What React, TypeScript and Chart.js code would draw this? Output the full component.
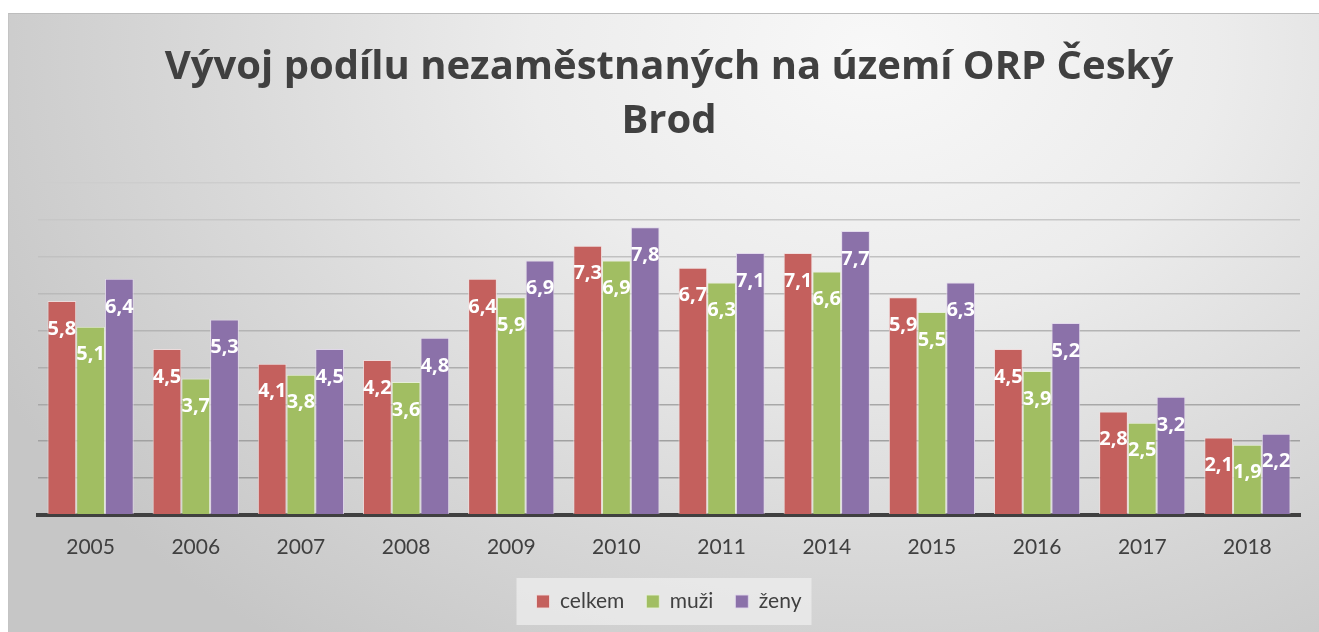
import React, { useEffect, useRef } from "react";
import { Chart, registerables } from "chart.js";

Chart.register(...registerables);

const categories = ["2005", "2006", "2007", "2008", "2009", "2010", "2011", "2014", "2015", "2016", "2017", "2018"];
const celkem = [5.8, 4.5, 4.1, 4.2, 6.4, 7.3, 6.7, 7.1, 5.9, 4.5, 2.8, 2.1];
const muzi = [5.1, 3.7, 3.8, 3.6, 5.9, 6.9, 6.3, 6.6, 5.5, 3.9, 2.5, 1.9];
const zeny = [6.4, 5.3, 4.5, 4.8, 6.9, 7.8, 7.1, 7.7, 6.3, 5.2, 3.2, 2.2];
const seriesNames = ["celkem", "muži", "ženy"];
const titleLines = ["Vývoj podílu nezaměstnaných na území ORP Český", "Brod"];
const yMin = 0;
const yMax = 9;

const FONT = "Lato, 'Open Sans', sans-serif";
const BOLDFONT = "'Open Sans', Lato, sans-serif";
const TEXT = "#404040";

const labelPlugin = {
  id: "barValueLabels",
  afterDatasetsDraw(chart: any) {
    const ctx = chart.ctx;
    ctx.save();
    ctx.font = `bold 20px ${BOLDFONT}`;
    ctx.fillStyle = "#ffffff";
    ctx.textAlign = "center";
    ctx.textBaseline = "middle";
    chart.data.datasets.forEach((ds: any, i: number) => {
      const meta = chart.getDatasetMeta(i);
      meta.data.forEach((bar: any, j: number) => {
        const v = ds.data[j] as number;
        ctx.fillText(v.toFixed(1).replace(".", ","), bar.x, bar.y + 28);
      });
    });
    ctx.restore();
  },
};

const legendBgPlugin = {
  id: "legendBg",
  beforeDraw(chart: any) {
    const lg = chart.legend;
    if (!lg || !lg.legendHitBoxes || !lg.legendHitBoxes.length) return;
    const hbs = lg.legendHitBoxes;
    let l = Infinity, r = -Infinity, t = Infinity, b = -Infinity;
    hbs.forEach((h: any) => {
      l = Math.min(l, h.left);
      r = Math.max(r, h.left + h.width);
      t = Math.min(t, h.top);
      b = Math.max(b, h.top + h.height);
    });
    const ctx = chart.ctx;
    ctx.save();
    ctx.fillStyle = "rgba(238,238,238,0.75)";
    ctx.fillRect(l - 20, t - 13, r - l + 30, b - t + 26);
    ctx.restore();
  },
};

function gridColor(v: number) {
  if (v === 0) return "rgba(0,0,0,0)";
  const dark = 155;
  const light = 205;
  const c = Math.round(dark + ((light - dark) * (v - 1)) / 8);
  return `rgb(${c},${c},${c})`;
}

export default function App() {
  const ref = useRef<HTMLCanvasElement | null>(null);

  useEffect(() => {
    if (!ref.current) return;
    const chart = new Chart(ref.current, {
      type: "bar",
      data: {
        labels: categories,
        datasets: [
          {
            label: seriesNames[0],
            data: celkem,
            backgroundColor: "#C4605D",
            borderColor: "rgba(240,220,220,0.9)",
            borderWidth: 1,
          },
          {
            label: seriesNames[1],
            data: muzi,
            backgroundColor: "#A1BE62",
            borderColor: "rgba(230,240,215,0.9)",
            borderWidth: 1,
          },
          {
            label: seriesNames[2],
            data: zeny,
            backgroundColor: "#8B71A9",
            borderColor: "rgba(225,215,235,0.9)",
            borderWidth: 1,
          },
        ],
      },
      options: {
        responsive: false,
        animation: false,
        events: [],
        layout: { padding: { left: 38, right: 19, top: 0, bottom: 10 } },
        datasets: {
          bar: { categoryPercentage: 0.82, barPercentage: 1.0 },
        },
        plugins: {
          tooltip: { enabled: false },
          title: {
            display: true,
            text: titleLines,
            color: TEXT,
            font: { family: BOLDFONT, size: 40, weight: "bold", lineHeight: 1.35 },
            padding: { top: 41, bottom: 34 },
          },
          legend: {
            display: true,
            position: "bottom",
            labels: {
              color: TEXT,
              font: { family: FONT, size: 21 },
              boxWidth: 13,
              boxHeight: 13,
              padding: 22,
            },
          },
        },
        scales: {
          x: {
            z: 1,
            grid: { display: false, drawTicks: false },
            border: { display: true, color: "#404040", width: 4 },
            ticks: {
              color: TEXT,
              font: { family: FONT, size: 21 },
              padding: 20,
            },
            afterFit(scale: any) {
              scale.height -= 11;
            },
          },
          y: {
            min: yMin,
            max: yMax,
            ticks: { display: false, stepSize: 1 },
            border: { display: false },
            grid: {
              drawTicks: false,
              lineWidth: 1.4,
              color: (c: any) => gridColor(c.tick ? c.tick.value : 0),
            },
          },
        },
      },
      plugins: [labelPlugin, legendBgPlugin],
    });
    return () => chart.destroy();
  }, []);

  return (
    <div style={{ position: "absolute", left: 0, top: 0, width: 1319, height: 632, background: "#ffffff", overflow: "hidden" }}>
      <div
        style={{
          position: "absolute",
          left: 8,
          top: 13,
          width: 1311,
          height: 619,
          boxSizing: "border-box",
          borderTop: "1px solid #bdbdbd",
          borderLeft: "1px solid #c4c4c4",
          background:
            "radial-gradient(ellipse 75% 120% at 66% 6%, #f8f8f8 0%, #ececec 35%, #dadada 65%, #c6c6c6 100%)",
        }}
      />
      <canvas ref={ref} width={1319} height={632} style={{ position: "absolute", left: 0, top: 0, width: 1319, height: 632 }} />
    </div>
  );
}
